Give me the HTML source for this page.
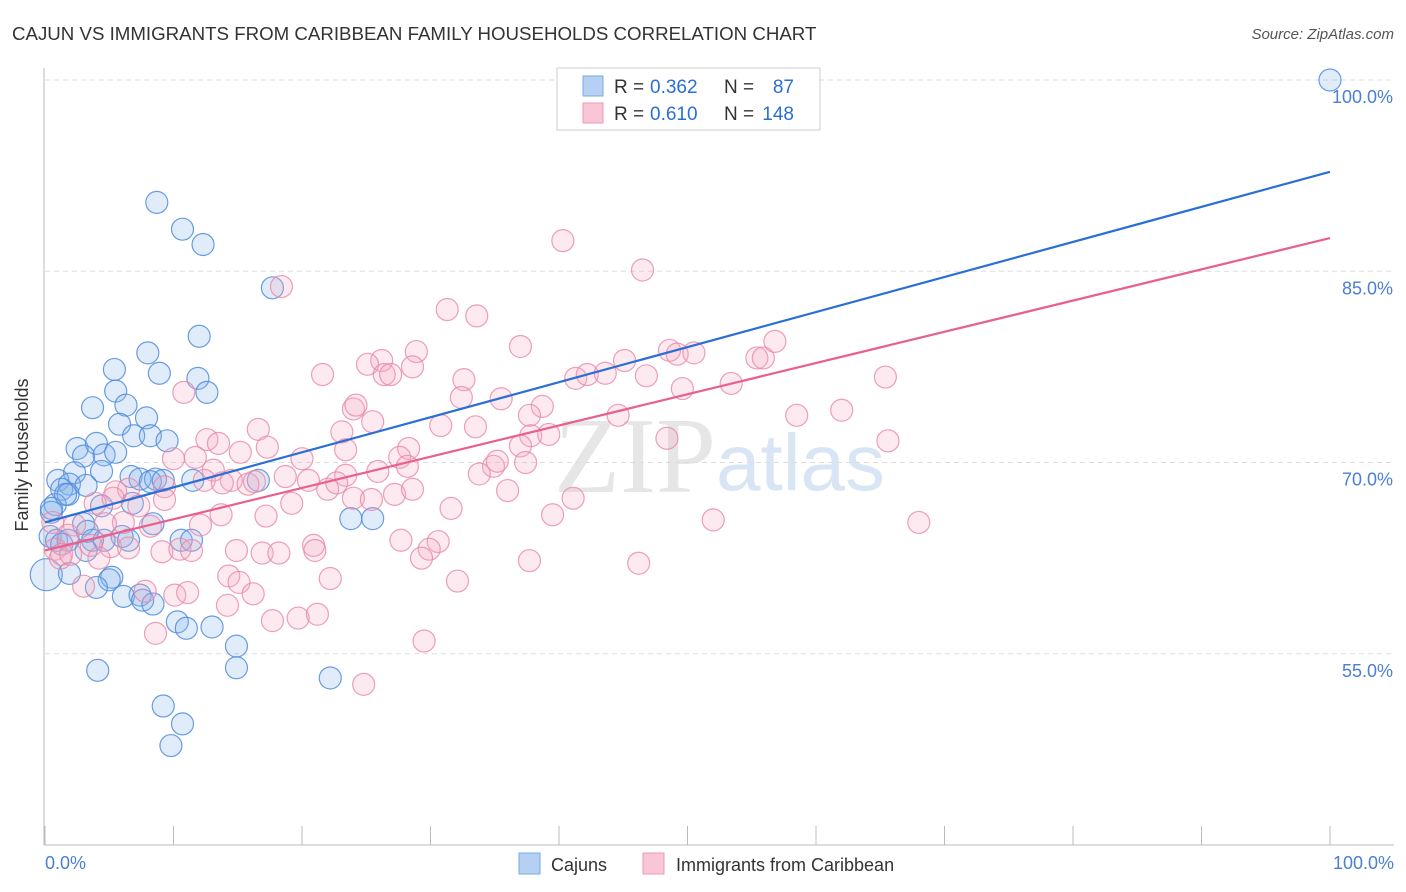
<!DOCTYPE html>
<html><head><meta charset="utf-8"><style>
body{margin:0;background:#fff;font-family:"Liberation Sans",sans-serif;}
svg{display:block}
</style></head><body>
<svg width="1406" height="892" id="chart">
<text x="12" y="40" font-size="18.7" fill="#333">CAJUN VS IMMIGRANTS FROM CARIBBEAN FAMILY HOUSEHOLDS CORRELATION CHART</text>
<text x="1394" y="39" font-size="15" fill="#555" font-style="italic" text-anchor="end">Source: ZipAtlas.com</text>
<text x="716" y="492" font-size="108" fill="#e6e6e6" text-anchor="end" font-family="Liberation Serif">ZIP</text>
<text x="716" y="490" font-size="80" fill="#d8e5f4">atlas</text>
<g id="grid"></g>
<line x1="44" y1="68" x2="44" y2="845" stroke="#bbb"/>
<line x1="44" y1="845" x2="1394" y2="845" stroke="#bbb"/>
<g id="ticks"></g>
<g id="pts"></g>
<g id="lines"></g>
<text x="28" y="455" font-size="18" fill="#333" text-anchor="middle" transform="rotate(-90 28 455)">Family Households</text>
<text x="45" y="869" font-size="18" fill="#4a7fd4">0.0%</text>
<text x="1394" y="869" font-size="18" fill="#4a7fd4" text-anchor="end">100.0%</text>
<g>
<rect x="557" y="68" width="263" height="62" fill="#fff" stroke="#ccc"/>
<rect x="583" y="76" width="20" height="20" fill="#b5d0f3" stroke="#7aa9e6"/>
<rect x="583" y="103" width="20" height="20" fill="#f8c6d6" stroke="#ec9ab6"/>
<text x="614" y="93" font-size="19" fill="#333">R =</text>
<text x="650" y="93" font-size="19" fill="#2a6fd6">0.362</text>
<text x="724" y="93" font-size="19" fill="#333">N =</text>
<text x="794" y="93" font-size="19" fill="#2a6fd6" text-anchor="end">87</text>
<text x="614" y="120" font-size="19" fill="#333">R =</text>
<text x="650" y="120" font-size="19" fill="#2a6fd6">0.610</text>
<text x="724" y="120" font-size="19" fill="#333">N =</text>
<text x="794" y="120" font-size="19" fill="#2a6fd6" text-anchor="end">148</text>
</g>
<g>
<rect x="519" y="853" width="21" height="21" fill="#b5d0f3" stroke="#7aa9e6"/>
<text x="551" y="871" font-size="18" fill="#333">Cajuns</text></g>
<g>
<rect x="643" y="853" width="21" height="21" fill="#f8c6d6" stroke="#ec9ab6"/>
<text x="676" y="871" font-size="18" fill="#333">Immigrants from Caribbean</text></g>
</svg>
<script>
const yTicks=[100,85,70,55];
const yTickLabels=["100.0%","85.0%","70.0%","55.0%"];
const xTicks=[0,10,20,30,40,50,60,70,80,90,100];
const blueX=[8.7,10.7,12.3,17.7,12.0,8.0,8.9,5.4,11.9,12.6,5.5,6.3,3.7,7.9,5.8,6.9,8.2,9.5,2.5,4.0,3.0,4.6,5.5,2.3,4.4,6.7,7.4,8.6,8.2,9.2,16.6,11.5,1.0,1.9,3.2,1.3,1.8,0.8,0.5,4.4,6.8,8.4,3.0,23.8,25.5,10.6,11.4,6.0,0.4,0.9,1.8,3.7,4.6,6.5,1.3,3.2,0.1,1.9,5.2,5.0,4.0,6.1,7.4,7.6,8.4,10.3,11.0,13.0,14.9,14.9,4.1,22.2,9.2,10.7,9.8,100,3.3,0.5,1.6];
const blueY=[90.4,88.3,87.1,83.7,79.9,78.6,77.0,77.3,76.6,75.5,75.6,74.5,74.3,73.5,73.0,72.1,72.1,71.7,71.1,71.5,70.5,70.6,70.8,69.2,69.3,68.9,68.7,68.7,68.5,68.6,68.6,68.6,68.6,68.3,68.2,67.9,67.5,66.7,66.1,66.6,66.8,65.2,65.2,65.6,65.6,63.9,63.9,64.2,64.2,63.9,63.9,63.9,63.9,63.9,63.6,63.1,61.2,61.3,61.0,60.8,60.2,59.5,59.6,59.2,58.9,57.5,57.0,57.1,55.6,53.9,53.7,53.1,50.9,49.5,47.8,100,64.6,66.4,67.5];
const pinkX=[18.4,40.3,46.5,31.3,33.6,37.0,28.9,26.2,25.1,26.4,26.9,28.6,21.6,32.6,41.3,42.2,43.6,45.1,46.8,48.6,49.2,50.5,49.6,53.4,55.4,55.9,56.8,65.4,10.8,32.4,24.0,24.2,35.5,38.7,37.7,25.5,62.0,58.5,44.6,30.8,33.5,23.1,16.6,12.6,13.5,17.3,10.0,11.7,37.8,39.2,37.0,48.4,65.6,28.3,27.6,28.2,20.0,23.4,34.9,35.2,37.4,33.8,25.9,23.4,15.2,13.1,14.5,12.4,13.8,15.8,9.3,20.5,18.7,22.0,22.7,6.5,5.5,5.3,3.9,7.3,9.3,19.2,27.2,28.6,31.6,24.0,25.4,41.1,39.5,36.0,17.2,6.1,8.2,4.7,12.1,0.6,2.3,1.8,5.1,6.5,3.6,0.8,1.3,1.2,14.9,16.9,18.2,20.9,21.0,9.1,10.5,11.4,27.7,30.6,29.9,29.3,2.0,4.2,37.7,46.2,52.0,68.0,14.3,15.1,22.2,32.1,7.8,10.1,11.1,16.2,14.2,3.0,8.6,17.7,19.7,21.2,29.5,24.8,16.3,13.7];
const pinkY=[83.8,87.4,85.1,82.0,81.5,79.1,78.7,78.0,77.7,76.9,76.9,77.5,76.9,76.5,76.6,76.9,77.0,78.0,76.8,78.8,78.5,78.6,75.8,76.2,78.2,78.2,79.5,76.7,75.5,75.1,74.2,74.5,75.0,74.4,73.7,73.2,74.1,73.7,73.7,72.9,72.8,72.4,72.6,71.8,71.5,71.2,70.3,70.4,72.1,72.2,71.3,71.9,71.7,71.1,70.4,69.7,70.3,71.0,69.7,70.1,70.0,69.1,69.3,69.0,70.8,69.4,68.6,68.6,68.4,68.3,68.1,68.6,68.9,67.9,68.4,67.9,67.7,67.2,66.8,66.6,67.1,66.8,67.5,67.9,66.4,67.2,67.1,67.2,65.9,67.8,65.8,65.3,65.0,65.2,65.1,65.3,65.1,64.3,63.4,63.3,63.5,63.2,62.8,62.5,63.1,62.9,62.9,63.5,63.1,63.0,63.2,63.1,63.9,63.8,63.2,62.5,62.8,62.5,62.3,62.1,65.5,65.3,61.1,60.6,60.9,60.7,59.9,59.6,59.8,59.7,58.8,60.3,56.6,57.6,57.8,58.1,56.0,52.6,68.5,65.9];
const blueTrend=[65.3,92.8];
const pinkTrend=[63.1,87.6];
const NS="http://www.w3.org/2000/svg";
const X=v=>45+v*12.85, Y=v=>80+(100-v)*12.75;
function mk(t,a,p){const e=document.createElementNS(NS,t);for(const k in a)e.setAttribute(k,a[k]);p.appendChild(e);return e;}
const g=document.getElementById('grid');
yTicks.forEach((t,i)=>{
 const l=mk('line',{x1:45,x2:1394,y1:Y(t),y2:Y(t),stroke:'#ddd','stroke-dasharray':'5,4'},g);
 
 
 const tx=mk('text',{x:1393,y:Y(t)+23,'font-size':18,fill:'#4a7fd4','text-anchor':'end'},g);
 tx.textContent=yTickLabels[i];
 
 
});
const tk=document.getElementById('ticks');
xTicks.forEach(t=>{
 const l=mk('line',{x1:X(t),x2:X(t),y1:826,y2:845,stroke:'#bbb'},tk);
 
 
});
const pg=document.getElementById('pts');
function dots(xs,ys,fill,stroke,name){xs.forEach((x,i)=>{
 const r=(x===0.1&&ys[i]===61.2)?16:11;
 const c=mk('circle',{cx:X(x),cy:Y(ys[i]),r:r,fill:fill,stroke:stroke,'stroke-width':1.2},pg);
 
 
});}
dots(blueX,blueY,'rgba(130,178,235,0.25)','rgba(80,140,220,0.85)','cajun-point');
dots(pinkX,pinkY,'rgba(244,170,195,0.25)','rgba(232,135,168,0.8)','caribbean-point');
const lg=document.getElementById('lines');
const bl=mk('line',{x1:X(0),y1:Y(blueTrend[0]),x2:X(100),y2:Y(blueTrend[1]),stroke:'#2a6fd6','stroke-width':2.2},lg);


const pl=mk('line',{x1:X(0),y1:Y(pinkTrend[0]),x2:X(100),y2:Y(pinkTrend[1]),stroke:'#e8608f','stroke-width':2.2},lg);


</script>
</body></html>
